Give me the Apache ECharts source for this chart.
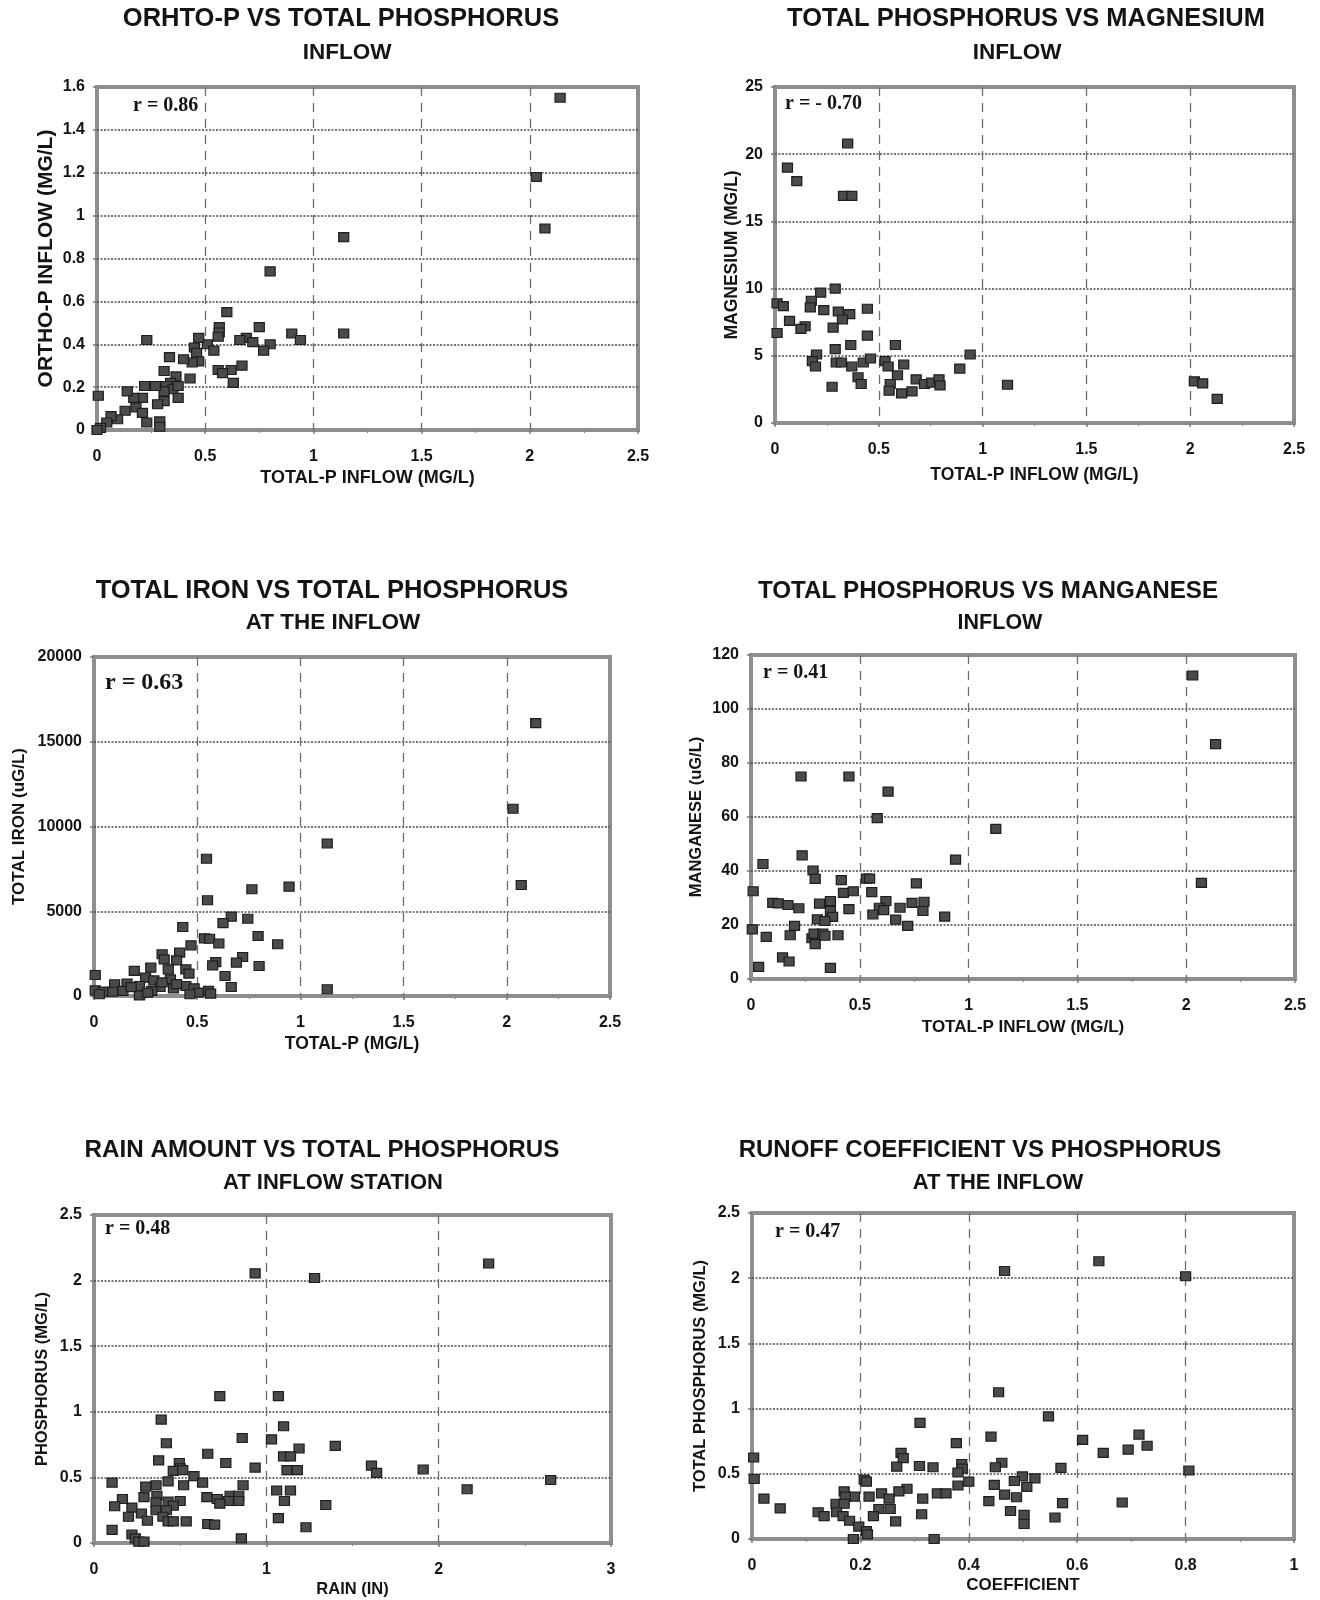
<!DOCTYPE html>
<html>
<head>
<meta charset="utf-8">
<title>Inflow phosphorus correlations</title>
<script src="https://cdn.jsdelivr.net/npm/echarts@6/dist/echarts.min.js"></script>
<style>
  html, body { margin: 0; padding: 0; background: #fff; }
  #chart { width: 1320px; height: 1600px; }
</style>
</head>
<body>
<div id="chart"></div>
<script>
// [total-P, ortho-P] inflow, mg/L
const orthoVsTotalP = [
  [2.14,1.55],[2.03,1.18],[2.07,0.94],[1.14,0.90],[1.14,0.45],[0.80,0.74],[0.60,0.55],[0.75,0.48],
  [0.90,0.45],[0.94,0.42],[0.80,0.40],[0.77,0.37],[0.69,0.43],[0.66,0.42],[0.72,0.41],[0.67,0.30],
  [0.62,0.28],[0.63,0.22],[0.56,0.28],[0.58,0.265],[0.565,0.48],[0.565,0.455],[0.56,0.435],[0.51,0.40],
  [0.54,0.37],[0.47,0.43],[0.45,0.385],[0.46,0.36],[0.47,0.32],[0.44,0.315],[0.43,0.24],[0.40,0.33],
  [0.335,0.34],[0.23,0.42],[0.31,0.275],[0.365,0.25],[0.34,0.22],[0.32,0.205],[0.35,0.19],[0.375,0.205],
  [0.375,0.15],[0.31,0.18],[0.31,0.135],[0.28,0.12],[0.27,0.205],[0.22,0.205],[0.21,0.15],[0.17,0.15],
  [0.14,0.18],[0.18,0.105],[0.21,0.08],[0.13,0.09],[0.095,0.05],[0.065,0.065],[0.045,0.035],[0.016,0.01],
  [0.0,0.0],[0.006,0.16],[0.23,0.035],[0.29,0.04],[0.29,0.015]
];

// [total-P mg/L, magnesium mg/L]
const magnesiumVsTotalP = [
  [0.35,20.8],[0.06,19.0],[0.105,18.0],[0.33,16.9],[0.37,16.9],[0.29,10.0],[0.22,9.7],[0.175,9.1],
  [0.17,8.6],[0.235,8.4],[0.01,8.9],[0.04,8.7],[0.305,8.3],[0.36,8.1],[0.445,8.5],[0.325,7.7],
  [0.07,7.6],[0.145,7.2],[0.125,7.0],[0.28,7.1],[0.01,6.7],[0.445,6.5],[0.29,5.5],[0.365,5.8],
  [0.58,5.8],[0.94,5.1],[0.20,5.1],[0.18,4.6],[0.195,4.2],[0.295,4.5],[0.32,4.5],[0.37,4.2],
  [0.425,4.5],[0.46,4.8],[0.53,4.6],[0.545,4.2],[0.62,4.35],[0.40,3.4],[0.415,2.9],[0.59,3.55],
  [0.89,4.05],[0.555,2.9],[0.55,2.4],[0.61,2.2],[0.66,2.35],[0.68,3.25],[0.72,2.9],[0.755,3.0],
  [0.79,3.25],[0.795,2.8],[0.275,2.7],[1.12,2.85],[2.02,3.1],[2.06,2.95],[2.13,1.8]
];

// [total-P mg/L, total iron ug/L]
const ironVsTotalP = [
  [2.14,16100],[2.03,11050],[2.07,6550],[1.13,9000],[1.13,400],[0.545,8100],[0.55,5650],[0.765,6300],
  [0.945,6450],[0.665,4680],[0.625,4300],[0.745,4560],[0.43,4070],[0.535,3400],[0.56,3380],[0.605,3100],
  [0.795,3540],[0.89,3050],[0.47,2990],[0.415,2560],[0.33,2460],[0.34,2160],[0.40,2100],[0.72,2300],
  [0.59,2000],[0.575,1810],[0.69,1970],[0.80,1770],[0.275,1670],[0.36,1570],[0.445,1570],[0.195,1480],
  [0.46,1320],[0.635,1180],[0.006,1240],[0.25,1080],[0.29,920],[0.37,980],[0.10,690],[0.16,730],
  [0.22,590],[0.32,530],[0.385,450],[0.445,590],[0.665,530],[0.485,450],[0.006,330],[0.045,260],
  [0.14,300],[0.28,300],[0.555,300],[0.505,200],[0.026,100],[0.22,40],[0.465,100],[0.565,140],
  [0.26,200],[0.09,250],[0.18,520],[0.33,800],[0.40,700]
];

// [total-P mg/L, manganese ug/L]
const manganeseVsTotalP = [
  [2.03,112.4],[2.135,87.0],[2.07,35.6],[1.125,55.6],[0.94,44.2],[0.23,75.0],[0.45,75.0],[0.63,69.4],
  [0.58,59.6],[0.235,45.8],[0.055,42.6],[0.285,40.2],[0.295,37.1],[0.415,36.6],[0.53,37.2],[0.545,37.2],
  [0.76,35.4],[0.01,32.5],[0.425,31.9],[0.47,32.5],[0.555,32.2],[0.62,28.9],[0.365,28.9],[0.315,27.9],
  [0.10,28.2],[0.125,28.0],[0.17,27.4],[0.22,26.2],[0.45,25.9],[0.59,26.4],[0.61,25.5],[0.685,26.4],
  [0.74,28.2],[0.795,28.6],[0.79,25.2],[0.56,23.9],[0.365,25.2],[0.375,23.0],[0.305,22.1],[0.34,21.5],
  [0.665,22.0],[0.89,23.1],[0.72,19.7],[0.20,19.7],[0.006,18.4],[0.07,15.6],[0.18,16.2],[0.28,15.1],
  [0.29,16.8],[0.295,12.9],[0.33,16.8],[0.34,16.0],[0.40,16.2],[0.145,8.0],[0.175,6.5],[0.035,4.5],
  [0.365,4.1]
];

// [rain in, total-P mg/L]
const phosphorusVsRain = [
  [2.29,2.13],[0.935,2.055],[1.28,2.02],[0.73,1.12],[1.07,1.12],[0.39,0.94],[1.10,0.89],[0.86,0.80],
  [1.03,0.79],[0.42,0.76],[1.40,0.74],[1.19,0.72],[0.66,0.68],[1.10,0.66],[1.14,0.66],[0.375,0.63],
  [0.765,0.61],[0.495,0.61],[0.50,0.57],[0.935,0.575],[1.61,0.59],[1.64,0.535],[1.91,0.56],[1.12,0.555],
  [1.18,0.555],[0.46,0.55],[0.515,0.555],[0.58,0.51],[0.43,0.47],[0.105,0.46],[0.63,0.46],[2.65,0.48],
  [0.52,0.44],[0.36,0.44],[0.865,0.44],[0.30,0.43],[2.165,0.41],[1.06,0.40],[1.14,0.40],[0.29,0.35],
  [0.365,0.36],[0.655,0.35],[0.50,0.32],[0.43,0.315],[0.165,0.335],[0.715,0.335],[0.79,0.36],[0.84,0.36],
  [0.78,0.32],[0.84,0.32],[0.73,0.30],[1.105,0.32],[0.12,0.28],[0.36,0.31],[0.46,0.285],[0.22,0.27],
  [1.345,0.29],[0.36,0.25],[0.42,0.25],[0.20,0.20],[0.275,0.225],[0.40,0.20],[0.31,0.17],[0.43,0.165],
  [0.46,0.165],[0.535,0.165],[1.07,0.19],[0.66,0.145],[0.70,0.14],[1.23,0.12],[0.105,0.10],[0.22,0.065],
  [0.24,0.035],[0.26,0.01],[0.29,0.01],[0.855,0.035]
];

// [runoff coefficient, total-P mg/L]
const phosphorusVsRunoff = [
  [0.64,2.13],[0.466,2.055],[0.80,2.015],[0.455,1.125],[0.547,0.94],[0.31,0.89],[0.714,0.80],[0.441,0.785],
  [0.61,0.76],[0.729,0.715],[0.377,0.735],[0.694,0.685],[0.648,0.66],[0.275,0.66],[0.279,0.62],[0.003,0.625],
  [0.461,0.585],[0.387,0.575],[0.267,0.555],[0.309,0.56],[0.334,0.55],[0.449,0.55],[0.388,0.54],[0.57,0.545],
  [0.806,0.525],[0.38,0.51],[0.004,0.46],[0.207,0.455],[0.211,0.44],[0.499,0.48],[0.522,0.465],[0.484,0.445],
  [0.40,0.44],[0.447,0.415],[0.38,0.41],[0.507,0.40],[0.17,0.365],[0.286,0.385],[0.271,0.365],[0.239,0.35],
  [0.342,0.35],[0.358,0.35],[0.189,0.325],[0.172,0.325],[0.216,0.325],[0.022,0.31],[0.253,0.31],[0.315,0.31],
  [0.466,0.34],[0.488,0.32],[0.155,0.27],[0.17,0.27],[0.437,0.29],[0.573,0.275],[0.683,0.28],[0.052,0.235],
  [0.234,0.23],[0.255,0.23],[0.122,0.205],[0.133,0.175],[0.156,0.205],[0.168,0.175],[0.18,0.14],[0.197,0.095],
  [0.211,0.06],[0.213,0.035],[0.224,0.175],[0.265,0.135],[0.313,0.19],[0.477,0.215],[0.502,0.185],[0.502,0.115],
  [0.559,0.165],[0.187,0.0],[0.336,0.0]
];

// correlation coefficients printed in each panel
const rLabels = ['r = 0.86', 'r = - 0.70', 'r = 0.63', 'r = 0.41', 'r = 0.48', 'r = 0.47'];

const panels = [
  { data: orthoVsTotalP, rect: [97, 87, 541, 343],
    x: [0, 2.5, 0.5], y: [0, 1.6, 0.2],
    xName: ['TOTAL-P INFLOW (MG/L)', 18, 39], yName: ['ORTHO-P INFLOW (MG/L)', 21, 40],
    title: ['ORHTO-P VS TOTAL PHOSPHORUS', 341, 19, 25.5], sub: ['INFLOW', 347, 53, 22.5], r: [133, 106, 20] },
  { data: magnesiumVsTotalP, rect: [775, 87, 519, 336],
    x: [0, 2.5, 0.5], y: [0, 25, 5],
    xName: ['TOTAL-P INFLOW (MG/L)', 17.5, 43], yName: ['MAGNESIUM (MG/L)', 17.5, 34],
    title: ['TOTAL PHOSPHORUS VS MAGNESIUM', 1026, 19, 25.5], sub: ['INFLOW', 1017, 53, 22.5], r: [785, 104, 20] },
  { data: ironVsTotalP, rect: [94, 657, 516, 339],
    x: [0, 2.5, 0.5], y: [0, 20000, 5000],
    xName: ['TOTAL-P (MG/L)', 17.5, 39], yName: ['TOTAL IRON (uG/L)', 17, 66],
    title: ['TOTAL IRON VS TOTAL PHOSPHORUS', 332, 591, 25.5], sub: ['AT THE INFLOW', 333, 623, 22.5], r: [105, 683, 24] },
  { data: manganeseVsTotalP, rect: [751, 655, 544, 324],
    x: [0, 2.5, 0.5], y: [0, 120, 20],
    xName: ['TOTAL-P INFLOW (MG/L)', 17, 40], yName: ['MANGANESE (uG/L)', 16.5, 46],
    title: ['TOTAL PHOSPHORUS VS MANGANESE', 988, 591, 24.2], sub: ['INFLOW', 1000, 623, 21.5], r: [763, 673, 20] },
  { data: phosphorusVsRain, rect: [94, 1215, 517, 328],
    x: [0, 3, 1], y: [0, 2.5, 0.5],
    xName: ['RAIN (IN)', 16.5, 38], yName: ['PHOSPHORUS (MG/L)', 16.5, 43.5],
    title: ['RAIN AMOUNT VS TOTAL PHOSPHORUS', 322, 1150, 24.2], sub: ['AT INFLOW STATION', 333, 1183, 22], r: [105, 1229, 20] },
  { data: phosphorusVsRunoff, rect: [752, 1213, 542, 326],
    x: [0, 1, 0.2], y: [0, 2.5, 0.5],
    xName: ['COEFFICIENT', 17, 38], yName: ['TOTAL PHOSPHORUS (MG/L)', 16.5, 43.5],
    title: ['RUNOFF COEFFICIENT VS PHOSPHORUS', 980, 1150, 24], sub: ['AT THE INFLOW', 998, 1183, 22], r: [775, 1232, 20] }
];

const sans = '"Liberation Sans", Arial, sans-serif';
const serif = '"Liberation Serif", "Times New Roman", serif';
const ink = '#141414';

// plain numbers, no thousands separators
const tickText = v => String(Math.round(v * 1000) / 1000);

const grid = [], xAxis = [], yAxis = [], series = [], graphic = [];

panels.forEach((p, i) => {
  grid.push({
    left: p.rect[0], top: p.rect[1], width: p.rect[2], height: p.rect[3],
    show: true, borderColor: '#8e8e8e', borderWidth: 4, backgroundColor: 'transparent'
  });
  xAxis.push({
    type: 'value', gridIndex: i, min: p.x[0], max: p.x[1], interval: p.x[2],
    name: p.xName[0], nameLocation: 'middle', nameGap: p.xName[2],
    nameTextStyle: { fontFamily: sans, fontWeight: 'bold', fontSize: p.xName[1], color: ink },
    axisLine: { show: false },
    axisTick: { show: true, length: 4, lineStyle: { color: '#777', width: 1.5 } },
    minorTick: { show: true, splitNumber: 2, length: 3, lineStyle: { color: '#888' } },
    axisLabel: { margin: 19, fontFamily: sans, fontWeight: 'bold', fontSize: 16, color: ink, formatter: tickText },
    splitLine: { show: true, showMinLine: false, showMaxLine: false,
      lineStyle: { type: [9, 7], color: '#6e6e6e', width: 1.3 } }
  });
  yAxis.push({
    type: 'value', gridIndex: i, min: p.y[0], max: p.y[1], interval: p.y[2],
    name: p.yName[0], nameLocation: 'middle', nameGap: p.yName[2], nameRotate: 90,
    nameTextStyle: { fontFamily: sans, fontWeight: 'bold', fontSize: p.yName[1], color: ink },
    axisLine: { show: false },
    axisTick: { show: true, length: 4, lineStyle: { color: '#777', width: 1.5 } },
    axisLabel: { margin: 12, fontFamily: sans, fontWeight: 'bold', fontSize: 16, color: ink, formatter: tickText },
    splitLine: { show: true, showMinLine: false, showMaxLine: false,
      lineStyle: { type: [2, 1.5], color: '#4a4a4a', width: 1.6 } }
  });
  series.push({
    type: 'scatter', xAxisIndex: i, yAxisIndex: i, data: p.data,
    symbol: 'rect', symbolSize: [10, 9], silent: true,
    itemStyle: { color: '#4b4b4b', borderColor: '#1e1e1e', borderWidth: 1.2, opacity: 1 }
  });
  graphic.push(
    { type: 'text', x: p.title[1], y: p.title[2],
      style: { text: p.title[0], font: 'bold ' + p.title[3] + 'px ' + sans, fill: ink, align: 'center', verticalAlign: 'middle' } },
    { type: 'text', x: p.sub[1], y: p.sub[2],
      style: { text: p.sub[0], font: 'bold ' + p.sub[3] + 'px ' + sans, fill: ink, align: 'center', verticalAlign: 'middle' } },
    { type: 'text', x: p.r[0], y: p.r[1], z: 10,
      style: { text: rLabels[i], font: 'bold ' + p.r[2] + 'px ' + serif, fill: ink, align: 'left', verticalAlign: 'middle' } }
  );
});

const chart = echarts.init(document.getElementById('chart'), null, { renderer: 'canvas' });
chart.setOption({
  animation: false,
  backgroundColor: '#ffffff',
  grid, xAxis, yAxis, series, graphic
});
</script>
</body>
</html>
